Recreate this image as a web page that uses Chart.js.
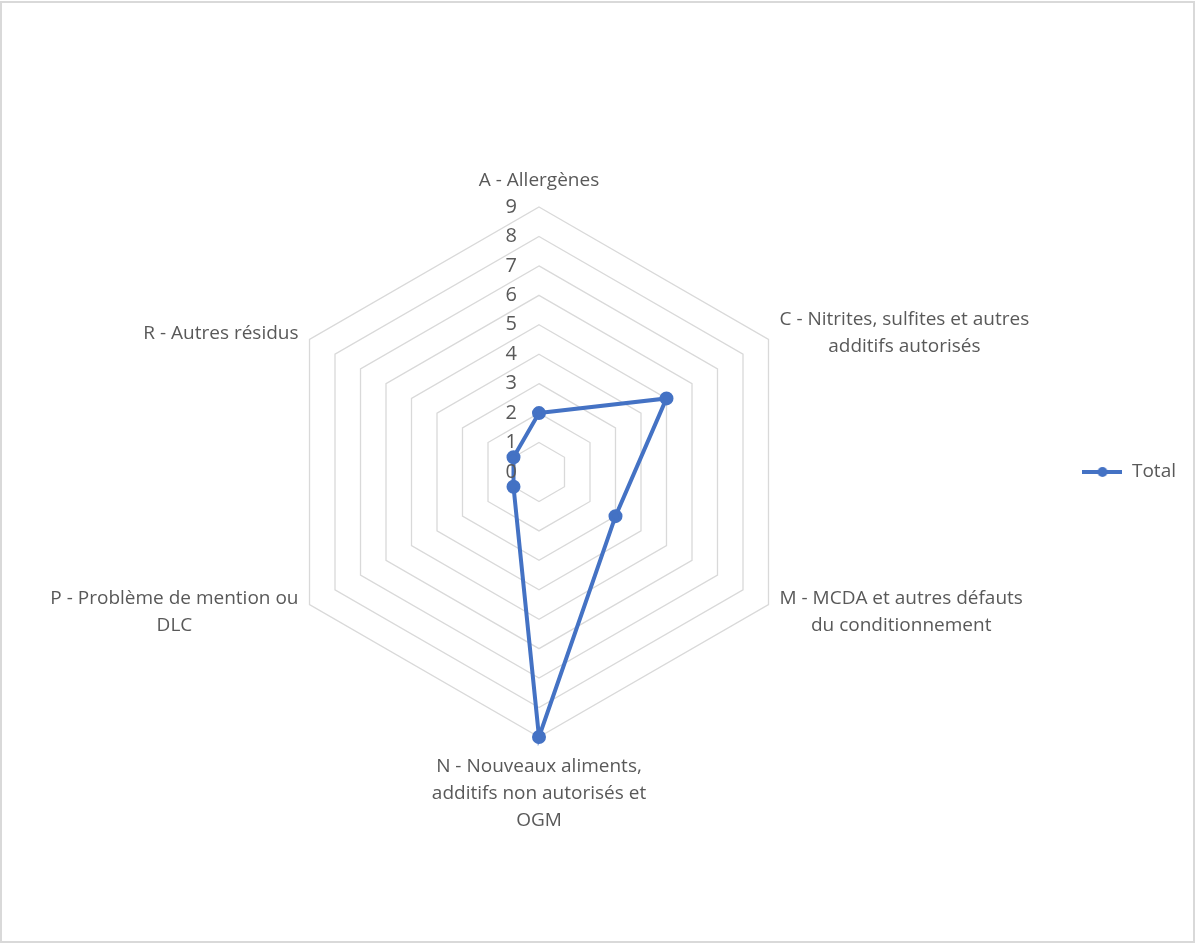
<!DOCTYPE html>
<html>
<head>
<meta charset="utf-8">
<script src="https://cdn.jsdelivr.net/npm/chart.js@4.4.0/dist/chart.umd.min.js"></script>
<style>
  html, body { margin: 0; padding: 0; background: #fff; }
  #wrap { position: absolute; left: 0; top: 0; width: 1195px; height: 944px; }
</style>
</head>
<body>
<div id="wrap"><canvas id="radar"></canvas></div>
<script>
// categories, one line per array entry
const categories = [
  ['A - Allergènes'],
  ['C - Nitrites, sulfites et autres', 'additifs autorisés'],
  ['M - MCDA et autres défauts', 'du conditionnement'],
  ['N - Nouveaux aliments,', 'additifs non autorisés et', 'OGM'],
  ['P - Problème de mention ou', 'DLC'],
  ['R - Autres résidus']
];
const totals = [2, 5, 3, 9, 1, 1];
const tickValues = [0, 1, 2, 3, 4, 5, 6, 7, 8, 9];

const blue = '#4472C4';
const textGrey = '#595959';
const fontFam = '"Open Sans", Lato, sans-serif';

// legend marker: line with a dot in the middle
const marker = document.createElement('canvas');
marker.width = 40; marker.height = 12;
const mctx = marker.getContext('2d');
mctx.strokeStyle = blue; mctx.lineWidth = 4;
mctx.beginPath(); mctx.moveTo(0, 6); mctx.lineTo(40, 6); mctx.stroke();
mctx.fillStyle = blue;
mctx.beginPath(); mctx.arc(20, 6, 5, 0, Math.PI * 2); mctx.fill();

const frame = {
  id: 'frame',
  beforeDraw(chart) {
    const c = chart.ctx;
    c.save();
    c.fillStyle = '#fff';
    c.fillRect(0, 0, chart.width, chart.height);
    c.strokeStyle = '#d9d9d9';
    c.lineWidth = 2;
    c.strokeRect(1, 2, 1193, 940);
    c.restore();
  }
};

// tick numbers right-aligned left of the top spoke, point labels centred per block
const labelsPlugin = {
  id: 'labelsPlugin',
  afterDraw(chart) {
    const s = chart.scales.r;
    const c = chart.ctx;
    c.save();
    c.fillStyle = textGrey;
    c.font = '20px ' + fontFam;
    c.textAlign = 'right';
    c.textBaseline = 'middle';
    tickValues.forEach(v => {
      const d = s.getDistanceFromCenterForValue(v);
      c.fillText(String(v), s.xCenter - 22, s.yCenter - d);
    });

    c.font = '19px ' + fontFam;
    c.textAlign = 'center';
    const lh = 27;
    const outer = s.getDistanceFromCenterForValue(s.max);
    categories.forEach((lines, i) => {
      const p = s.getPointPosition(i, outer);
      const w = Math.max(...lines.map(t => c.measureText(t).width));
      const h = lines.length * lh;
      let cx, top;
      if (Math.abs(p.x - s.xCenter) < 1) {
        cx = p.x;
        top = p.y < s.yCenter ? p.y - 13 - h : p.y + 16;
      } else {
        cx = p.x > s.xCenter ? p.x + 11 + w / 2 : p.x - 11 - w / 2;
        top = p.y - h / 2 + (p.y < s.yCenter ? -6 : 8);
      }
      lines.forEach((t, k) => c.fillText(t, cx, top + lh * k + lh / 2));
    });
    c.restore();
  }
};

new Chart(document.getElementById('radar'), {
  type: 'radar',
  data: {
    labels: categories,
    datasets: [{
      label: 'Total',
      data: totals,
      borderColor: blue,
      backgroundColor: blue,
      borderWidth: 4,
      pointRadius: 5,
      pointBackgroundColor: blue,
      pointBorderColor: blue,
      fill: false
    }]
  },
  options: {
    responsive: true,
    maintainAspectRatio: false,
    animation: false,
    layout: { padding: { left: 7, right: 9, top: 207, bottom: 207 } },
    scales: {
      r: {
        min: 0,
        max: 9,
        ticks: { stepSize: 1, display: false },
        grid: { color: '#d9d9d9', lineWidth: 1.3 },
        angleLines: { display: false },
        pointLabels: { display: false }
      }
    },
    plugins: {
      legend: {
        position: 'right',
        labels: {
          usePointStyle: true,
          pointStyle: marker,
          pointStyleWidth: 40,
          color: textGrey,
          font: { size: 19, family: fontFam },
          padding: 10
        }
      },
      tooltip: { enabled: false }
    }
  },
  plugins: [frame, labelsPlugin]
});
</script>
</body>
</html>
